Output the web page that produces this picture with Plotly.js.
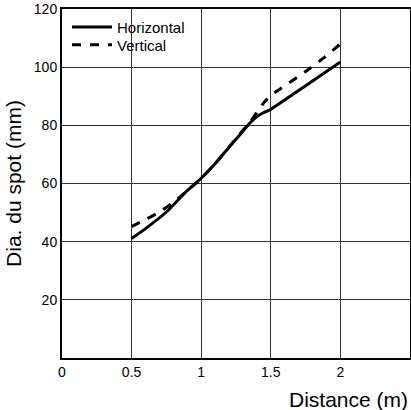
<!DOCTYPE html>
<html>
<head>
<meta charset="utf-8">
<script src="https://cdn.plot.ly/plotly-3.0.1.min.js"></script>
<style>html,body{margin:0;padding:0;background:#fff;}#chart{width:411px;height:410px;}</style>
</head>
<body>
<div id="chart"></div>
<script>
const distH = [0.5, 0.6, 0.75, 0.9, 1.0, 1.1, 1.2, 1.3, 1.35, 1.4, 1.45, 1.5, 1.75, 2.0];
const diaH  = [41.1, 44.5, 50.2, 57.6, 61.8, 66.8, 72.5, 78, 80.8, 83.0, 84.4, 85.5, 93.6, 101.8];
const distV = [0.5, 0.6, 0.7, 0.8, 0.9, 1.0, 1.1, 1.2, 1.3, 1.35, 1.4, 1.45, 1.5, 1.6, 1.75, 1.875, 2.0];
const diaV  = [45.2, 47.6, 50.2, 53.5, 57.5, 61.8, 66.8, 72.5, 78.3, 81, 84.5, 87.8, 90.3, 93.6, 98.5, 103, 108];
const seriesNames = ["Horizontal", "Vertical"];
const xTicks = [0, 0.5, 1, 1.5, 2, 2.5];
const xTickText = ["0", "0.5", "1", "1.5", "2", "2.5"];
const yTicks = [20, 40, 60, 80, 100, 120];
const xTitle = "Distance (m)";
const yTitle = "Dia. du spot (mm)";

const font = "Liberation Sans, Arial, sans-serif";
const traces = [
  {x: distH, y: diaH, name: seriesNames[0], legend: "legend", mode: "lines", line: {color: "#000", width: 3, shape: "spline", smoothing: 0.4}},
  {x: distV, y: diaV, name: seriesNames[1], legend: "legend2", mode: "lines", line: {color: "#000", width: 3, dash: "dash", shape: "spline", smoothing: 0.4}}
];
const legendBase = {xanchor: "left", yanchor: "middle", bgcolor: "rgba(0,0,0,0)", borderwidth: 0, font: {size: 15, family: font}, itemwidth: 40};
const layout = {
  width: 411, height: 410,
  margin: {l: 62, r: 1, t: 9, b: 52},
  paper_bgcolor: "#fff", plot_bgcolor: "#fff",
  font: {family: font, color: "#000", size: 14},
  showlegend: true,
  legend: Object.assign({x: 0.0144, y: 0.948}, legendBase),
  legend2: Object.assign({x: 0.0144, y: 0.897}, legendBase),
  xaxis: {
    range: [0, 2.5], tickvals: xTicks, ticktext: xTickText, ticks: "",
    showgrid: true, gridcolor: "#333", gridwidth: 1, zeroline: false,
    showline: true, linecolor: "#000", linewidth: 2, mirror: true,
    tickfont: {size: 14, family: font}, title: {text: ""}
  },
  yaxis: {
    range: [0, 120], tickvals: yTicks, ticks: "",
    showgrid: true, gridcolor: "#333", gridwidth: 1, zeroline: false,
    showline: true, linecolor: "#000", linewidth: 2, mirror: true,
    tickfont: {size: 14, family: font},
    title: {text: yTitle, font: {size: 21, family: font}, standoff: 6}
  },
  annotations: [
    {text: xTitle, xref: "paper", yref: "paper", x: 1, y: 0, xanchor: "right", yanchor: "middle", yshift: -41, showarrow: false, font: {size: 21, family: font}}
  ]
};
Plotly.newPlot("chart", traces, layout, {staticPlot: true, displayModeBar: false});
</script>
</body>
</html>
